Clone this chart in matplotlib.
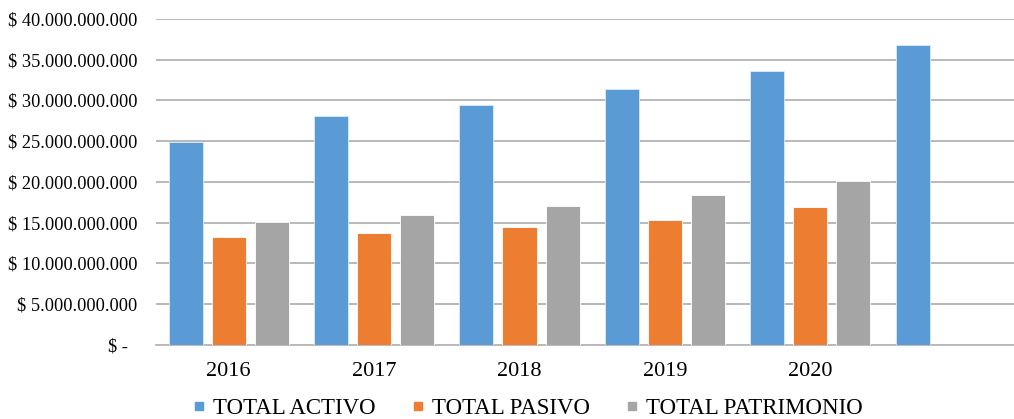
import numpy as np
import matplotlib.pyplot as plt
from matplotlib.lines import Line2D

plt.rcParams['font.family'] = ['Liberation Serif', 'DejaVu Serif']

# values (pesos)
years = ['2016', '2017', '2018', '2019', '2020', '']
total_activo = [24.85e9, 28.13e9, 29.45e9, 31.40e9, 33.66e9, 36.82e9]
total_pasivo = [13.27e9, 13.72e9, 14.46e9, 15.32e9, 16.87e9, np.nan]
total_patrimonio = [15.07e9, 15.89e9, 16.99e9, 18.43e9, 20.11e9, np.nan]

series_names = ['TOTAL ACTIVO', 'TOTAL PASIVO', 'TOTAL PATRIMONIO']
colors = ['#5B9BD5', '#ED7D31', '#A5A5A5']

y_ticks = np.arange(0, 40e9 + 1, 5e9)


def fmt_peso(v):
    if v == 0:
        return '$ -  '
    return '$ ' + f'{int(v):,}'.replace(',', '.')


fig = plt.figure(figsize=(10.14, 4.19), dpi=100)
ax = fig.add_axes([156 / 1014, 1 - 344.7 / 419, 872.4 / 1014, 325.7 / 419])

x = np.arange(len(years))
width = 0.234
offset = 0.296
for i, (vals, c) in enumerate(zip([total_activo, total_pasivo, total_patrimonio], colors)):
    ax.bar(x + (i - 1) * offset, vals, width, color=c, edgecolor='#DDEBF7' if i == 0 else 'white',
           linewidth=0.6, zorder=3)

ax.set_xlim(-0.5, len(years) - 0.5)
ax.set_ylim(0, 40e9)
ax.set_yticks(y_ticks)
ax.set_yticklabels([fmt_peso(v) for v in y_ticks], fontsize=13.2)
ax.set_xticks(x)
ax.set_xticklabels(years, fontsize=16)
ax.tick_params(axis='y', length=0, pad=13.5)
ax.tick_params(axis='x', length=0, pad=12.5)
ax.yaxis.grid(True, color='#A6A6A6', linewidth=1.1, zorder=0)
ax.set_axisbelow(True)
for s in ['top', 'right', 'left']:
    ax.spines[s].set_visible(False)
ax.spines['bottom'].set_color('#B8B8B8')
ax.spines['bottom'].set_linewidth(1.3)

handles = [Line2D([], [], marker='s', linestyle='', markersize=6, color=c) for c in colors]
fig.legend(handles, series_names, loc='center', bbox_to_anchor=(0.521, 0.026), ncol=3,
           frameon=False, fontsize=16.5, handlelength=0.45, handletextpad=0.4,
           columnspacing=1.6, borderaxespad=0, borderpad=0)

fig.savefig('out.png', dpi=100, facecolor='white')
